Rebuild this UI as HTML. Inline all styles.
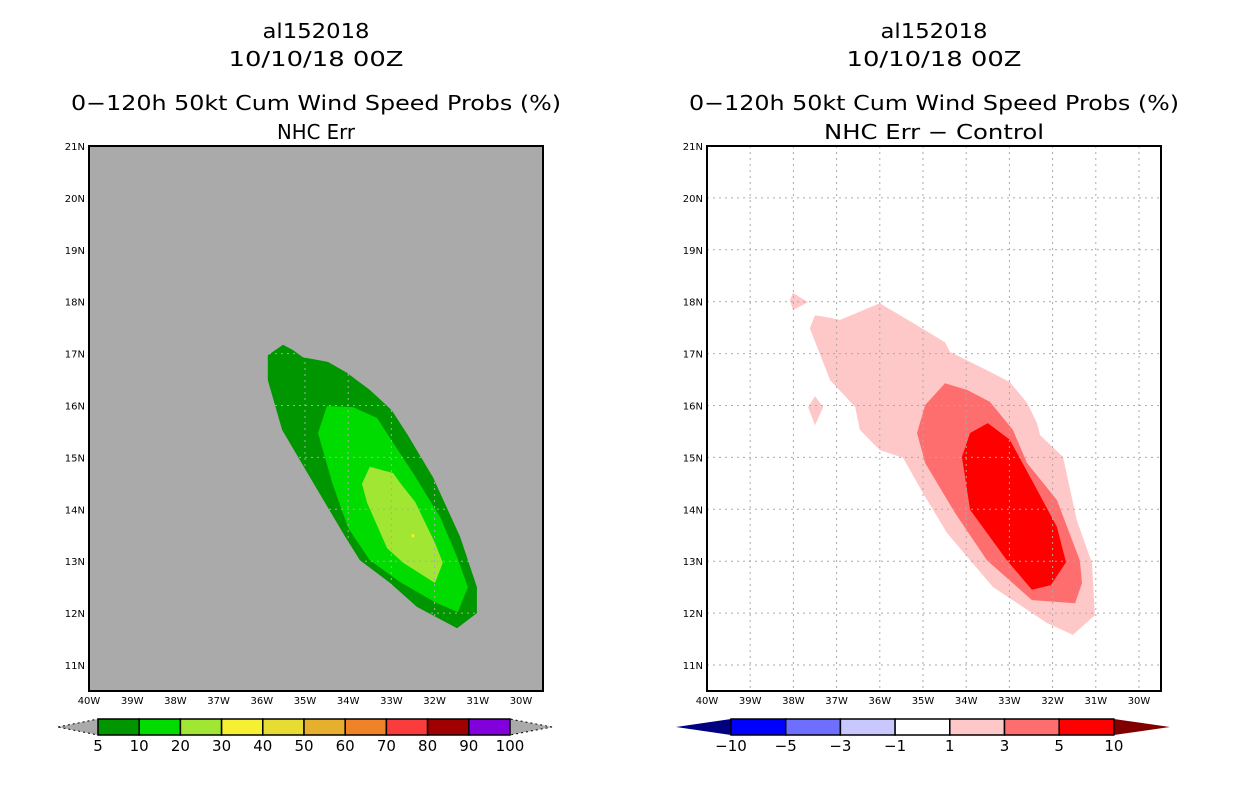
<!DOCTYPE html>
<html><head><meta charset="utf-8"><style>
body{margin:0;background:#fff;}
svg{display:block;font-family:"Liberation Sans",sans-serif;}
</style></head><body>
<svg id="s" width="1236" height="800" xmlns="http://www.w3.org/2000/svg"></svg>
<script>
const lonTicks=[40,39,38,37,36,35,34,33,32,31,30];
const latTicks=[21,20,19,18,17,16,15,14,13,12,11];
// left panel contours [lonW, latN]
const g5=[[35.51,17.17],[35.86,16.97],[35.86,16.49],[35.53,15.53],[34.81,14.51],[34.07,13.47],[33.73,13.02],[33.03,12.58],[32.41,12.12],[31.48,11.71],[31.02,12.00],[31.02,12.50],[31.41,13.47],[32.04,14.62],[32.62,15.43],[32.99,15.91],[33.50,16.30],[34.03,16.63],[34.47,16.84],[35.05,16.93],[35.28,17.07]];
const g10=[[34.49,15.99],[34.70,15.47],[34.37,14.51],[34.00,13.64],[33.50,13.02],[32.80,12.60],[31.99,12.21],[31.46,12.02],[31.23,12.50],[31.48,13.08],[31.87,13.85],[32.50,14.70],[32.96,15.28],[33.33,15.76],[33.89,15.97]];
const g20=[[33.50,14.82],[33.68,14.49],[33.56,14.12],[33.10,13.25],[32.73,12.97],[31.99,12.58],[31.81,12.97],[31.99,13.35],[32.45,14.14],[32.80,14.51],[32.96,14.70],[33.33,14.78]];
const g30=[[32.53,13.52],[32.47,13.52],[32.47,13.46],[32.53,13.46]];
// right panel difference contours
const d1=[[37.50,17.74],[37.62,17.49],[37.15,16.49],[36.57,15.97],[36.46,15.53],[36.00,15.14],[35.46,14.99],[35.00,14.31],[34.44,13.54],[33.38,12.50],[32.13,11.81],[31.53,11.58],[31.02,11.96],[31.09,12.97],[31.44,13.79],[31.76,15.01],[32.29,15.43],[32.36,15.66],[32.59,16.05],[32.99,16.45],[33.52,16.68],[34.37,17.03],[34.49,17.22],[35.07,17.51],[36.00,17.97],[36.92,17.65],[37.15,17.69]];
const d1b=[[38.01,18.17],[37.66,17.99],[38.01,17.84],[38.08,18.03]];
const d1c=[[37.50,16.18],[37.31,15.97],[37.50,15.62],[37.66,15.97]];
const d3=[[34.49,16.43],[34.95,16.01],[35.14,15.47],[34.95,14.89],[34.26,13.93],[33.52,13.02],[32.48,12.25],[31.48,12.19],[31.32,12.58],[31.37,13.02],[31.90,14.18],[32.59,14.89],[32.92,15.53],[33.45,16.07],[33.98,16.30]];
const d5=[[33.50,15.66],[33.91,15.47],[34.10,15.01],[33.91,13.99],[33.06,13.02],[32.48,12.45],[32.04,12.54],[31.69,12.98],[31.90,13.66],[32.48,14.56],[32.99,15.34]];
const leftLevels=["5","10","20","30","40","50","60","70","80","90","100"];
const leftColors=["#009600","#00dc00","#a0e632","#f5f032","#e6dc32","#e6af2d","#f08228","#fa3c3c","#a00000","#8200dc"];
const rightLevels=["\u221210","\u22125","\u22123","\u22121","1","3","5","10"];
const rightColors=["#0000ff","#6e6eff","#c8c8ff","#ffffff","#ffc8c8","#ff6e6e","#ff0000"];

const S=document.getElementById('s');const NS="http://www.w3.org/2000/svg";
function mk(t,a,p){const e=document.createElementNS(NS,t);for(const k in a)e.setAttribute(k,a[k]);(p||S).appendChild(e);return e;}
function txt(x,y,s,size,anchor,name,len){const e=mk('text',{x:x,y:y,'font-size':size,'text-anchor':anchor||'middle','font-family':'"DejaVu Sans","Liberation Sans",sans-serif'});
if(len){e.setAttribute('textLength',len);e.setAttribute('lengthAdjust','spacingAndGlyphs');}
e.textContent=s;


return e;}
function panel(x0,bg,titles,lens,polys,name){
  const y0=146,W=454,H=545;
  const X=l=>x0+(40-l)*43.2, Y=la=>y0+(21-la)*51.9;
  const g=mk('g',{});
  
  
  const r=mk('rect',{x:x0,y:y0,width:W,height:H,fill:bg},g);
  
  
  polys.forEach(([pts,c,n])=>{const p=mk('polygon',{points:pts.map(q=>X(q[0]).toFixed(1)+','+Y(q[1]).toFixed(1)).join(' '),fill:c},g);
    
    });
  lonTicks.forEach(l=>{if(l<40&&l>30-0.1){const x=X(l);const ln=mk('line',{x1:x,y1:y0,x2:x,y2:y0+H,stroke:'#aaa','stroke-dasharray':'2,4'},g);
    
    }
    txt(X(l),704,l+'W',10,'middle','x-tick-label');});
  latTicks.forEach(la=>{const y=Y(la);if(la<21){const ln=mk('line',{x1:x0,y1:y,x2:x0+W,y2:y,stroke:'#aaa','stroke-dasharray':'2,4'},g);
    
    }
    txt(x0-4,y+4,la+'N',10,'end','y-tick-label');});
  const b=mk('rect',{x:x0,y:y0,width:W,height:H,fill:'none',stroke:'#000','stroke-width':2},g);
  
  
  const cx=x0+227;
  txt(cx,38,titles[0],20,'middle','storm-id-title',lens[0]);
  txt(cx,66,titles[1],20,'middle','date-title',lens[1]);
  txt(cx,110,titles[2],20,'middle','product-title',lens[2]);
  txt(cx,139,titles[3],20,'middle','subtitle',lens[3]);
}
panel(89,'#aaaaaa',['al152018','10/10/18 00Z','0\u2212120h 50kt Cum Wind Speed Probs (%)','NHC Err'],[107,175,490,78],
 [[g5,'#009600','contour-5'],[g10,'#00dc00','contour-10'],[g20,'#a0e632','contour-20'],[g30,'#f5f032','contour-30']],'left-panel');
panel(707,'#ffffff',['al152018','10/10/18 00Z','0\u2212120h 50kt Cum Wind Speed Probs (%)','NHC Err \u2212 Control'],[107,175,490,220],
 [[d1,'#ffc8c8','contour-1'],[d1b,'#ffc8c8','contour-1-patch'],[d1c,'#ffc8c8','contour-1-patch2'],[d3,'#ff6e6e','contour-3'],[d5,'#ff0000','contour-5']],'right-panel');

function cbar(x0,bw,colors,levels,lt,rt,ltip,rtip,name){
  const y=719,h=16;const xe=x0+bw*colors.length;
  const l=mk('polygon',{points:`${ltip},${y+h/2} ${x0},${y} ${x0},${y+h}`,fill:lt,stroke:lt==='#aaaaaa'?'#000':'none','stroke-dasharray':'2,3','stroke-width':1});
  
  
  const r=mk('polygon',{points:`${rtip},${y+h/2} ${xe},${y} ${xe},${y+h}`,fill:rt,stroke:rt==='#aaaaaa'?'#000':'none','stroke-dasharray':'2,3','stroke-width':1});
  
  
  colors.forEach((c,i)=>{const b=mk('rect',{x:x0+i*bw,y:y,width:bw,height:h,fill:c,stroke:'#000','stroke-width':1.5});
    
    });
  levels.forEach((s,i)=>txt(x0+i*bw,751,s,15,'middle',name+'-label'));
}
cbar(98,41.2,leftColors,leftLevels,'#aaaaaa','#aaaaaa',58,552,'left-colorbar');
cbar(731,54.7,rightColors,rightLevels,'#000080','#800000',676,1170,'right-colorbar');
</script>
</body></html>
